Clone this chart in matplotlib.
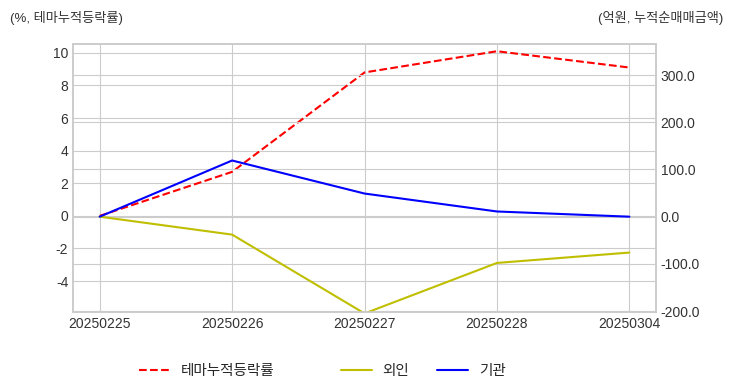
import matplotlib
matplotlib.use("Agg")
import matplotlib.pyplot as plt

plt.style.use("seaborn-v0_8-whitegrid")
plt.rcParams['font.family'] = ['Liberation Sans', 'Noto Sans CJK KR']
plt.rcParams['axes.unicode_minus'] = False

# data
dates = ["20250225", "20250226", "20250227", "20250228", "20250304"]
theme_ret = [0.0, 2.7, 8.8, 10.1, 9.1]      # %, 테마누적등락률
foreign = [0.0, -38.0, -205.0, -98.0, -76.0]  # 억원, 외인
inst = [0.0, 119.0, 49.0, 11.0, 0.0]          # 억원, 기관

fig, ax = plt.subplots(figsize=(7.32, 3.92), dpi=100)
fig.subplots_adjust(left=0.1, right=0.896, top=0.888, bottom=0.204)
x = range(len(dates))

l1, = ax.plot(x, theme_ret, color="r", linestyle="--", linewidth=1.5, label="테마누적등락률")
ax.set_ylim(-5.9, 10.55)
ax.set_yticks([-4, -2, 0, 2, 4, 6, 8, 10])
ax.set_xlim(-0.2, 4.2)
ax.set_xticks(list(x))
ax.set_xticklabels(dates)

ax2 = ax.twinx()
l2, = ax2.plot(x, foreign, color="y", linewidth=1.5, label="외인")
l3, = ax2.plot(x, inst, color="b", linewidth=1.5, label="기관")
ax2.set_ylim(-202, 366)
ax2.set_yticks([-200, -100, 0, 100, 200, 300])
ax2.set_yticklabels([f"{v:.1f}" for v in [-200, -100, 0, 100, 200, 300]])

for a in (ax, ax2):
    a.tick_params(labelsize=10, colors="#333333", length=0)
    for s in a.spines.values():
        s.set_visible(True)
        s.set_color("#cccccc")
        s.set_linewidth(1.2)
ax2.grid(True, color="#cccccc")
ax.grid(True, color="#cccccc")

fig.text(0.013, 0.955, "(%, 테마누적등락률)", fontsize=9.5, color="#333333", va="center")
fig.text(0.988, 0.955, "(억원, 누적순매매금액)", fontsize=9.5, color="#333333", va="center", ha="right")

leg_kw = dict(frameon=False, fontsize=10.5, handlelength=2.1, handletextpad=0.75,
              columnspacing=1.9, borderpad=0.4)
fig.legend(handles=[l1], loc="center left", bbox_to_anchor=(0.172, 0.054), **leg_kw)
fig.legend(handles=[l2, l3], loc="center left", bbox_to_anchor=(0.448, 0.054), ncol=2, **leg_kw)

fig.savefig("out.png", dpi=100)
